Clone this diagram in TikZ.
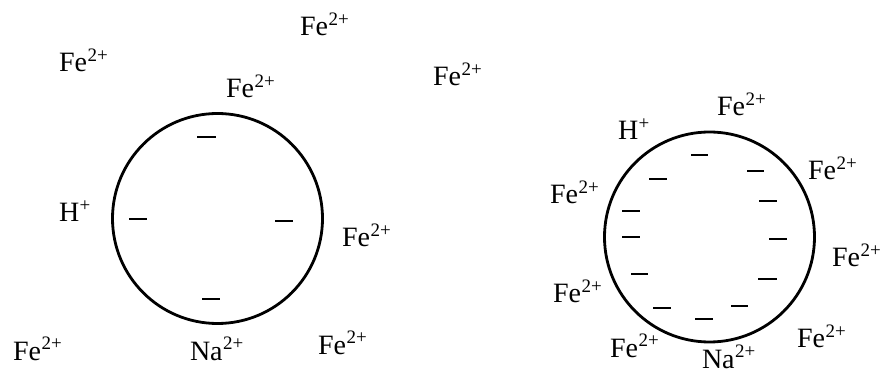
\documentclass[tikz,border=0pt]{standalone}
\usepackage{fontspec}
\setmainfont{Liberation Serif}
\newcommand\chemion[2]{#1\kern0.5pt\raisebox{0.38em}{\fontsize{19}{19}\selectfont #2}}
\tikzset{
  lbl/.style={anchor=base west, inner sep=0pt, outer sep=0pt, font=\fontsize{28}{28}\selectfont},
  cell/.style={circle, draw, line width=2.8pt, inner sep=0pt, minimum size=210pt},
  minusbar/.style={line width=1.6pt}
}
\begin{document}
\begin{tikzpicture}[x=1pt,y=-1pt]
\useasboundingbox (0,0) rectangle (887,374);
% left circle
\node[cell] (c1) at (217.5,218.5) {};
\node[lbl] (l1) at (300,36) {\chemion{Fe}{2+}};
\node[lbl] (l2) at (59,72) {\chemion{Fe}{2+}};
\node[lbl] (l3) at (226,98) {\chemion{Fe}{2+}};
\node[lbl] (l4) at (433,86) {\chemion{Fe}{2+}};
\node[lbl] (l5) at (59,222) {\chemion{H}{+}};
\node[lbl] (l6) at (342,247) {\chemion{Fe}{2+}};
\node[lbl] (l7) at (13,360) {\chemion{Fe}{2+}};
\node[lbl] (l8) at (190,360) {\chemion{Na}{2+}};
\node[lbl] (l9) at (318,354) {\chemion{Fe}{2+}};
\draw[minusbar] (197,137) -- (216,137);
\draw[minusbar] (129,219) -- (147,219);
\draw[minusbar] (275,221) -- (293,221);
\draw[minusbar] (202,299) -- (220,299);
% right circle
\node[cell] (c2) at (709.5,237) {};
\node[lbl] (r1) at (717,116) {\chemion{Fe}{2+}};
\node[lbl] (r2) at (618,140) {\chemion{H}{+}};
\node[lbl] (r3) at (808,180) {\chemion{Fe}{2+}};
\node[lbl] (r4) at (550,204) {\chemion{Fe}{2+}};
\node[lbl] (r5) at (832,267) {\chemion{Fe}{2+}};
\node[lbl] (r6) at (553,303) {\chemion{Fe}{2+}};
\node[lbl] (r7) at (797,348) {\chemion{Fe}{2+}};
\node[lbl] (r8) at (610,357) {\chemion{Fe}{2+}};
\node[lbl] (r9) at (702,368) {\chemion{Na}{2+}};
\draw[minusbar] (691,155) -- (708,155);
\draw[minusbar] (747,171) -- (764,171);
\draw[minusbar] (649,179) -- (667,179);
\draw[minusbar] (759,201) -- (777,201);
\draw[minusbar] (622,211) -- (640,211);
\draw[minusbar] (622,237) -- (640,237);
\draw[minusbar] (769,239) -- (787,239);
\draw[minusbar] (758,279) -- (777,279);
\draw[minusbar] (631,274) -- (648,274);
\draw[minusbar] (653,308) -- (671,308);
\draw[minusbar] (731,306) -- (748,306);
\draw[minusbar] (695,319) -- (713,319);
\end{tikzpicture}
\end{document}
